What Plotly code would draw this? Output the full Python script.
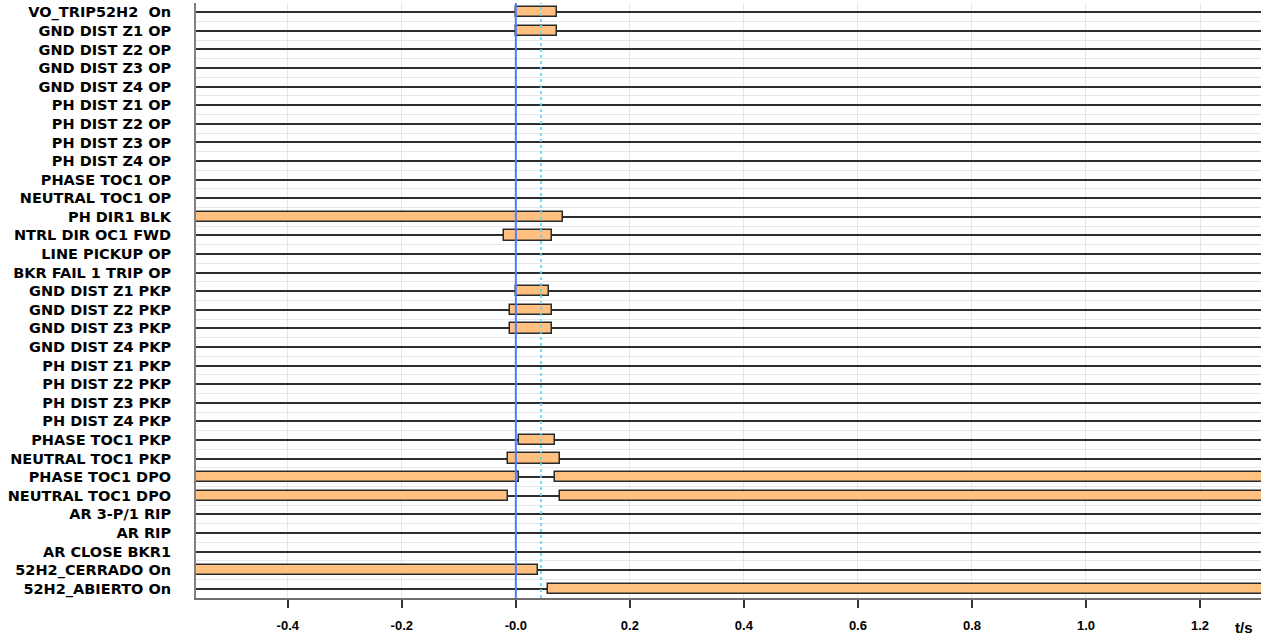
import plotly.graph_objects as go

rows = [
    "VO_TRIP52H2  On", "GND DIST Z1 OP", "GND DIST Z2 OP", "GND DIST Z3 OP",
    "GND DIST Z4 OP", "PH DIST Z1 OP", "PH DIST Z2 OP", "PH DIST Z3 OP",
    "PH DIST Z4 OP", "PHASE TOC1 OP", "NEUTRAL TOC1 OP", "PH DIR1 BLK",
    "NTRL DIR OC1 FWD", "LINE PICKUP OP", "BKR FAIL 1 TRIP OP",
    "GND DIST Z1 PKP", "GND DIST Z2 PKP", "GND DIST Z3 PKP", "GND DIST Z4 PKP",
    "PH DIST Z1 PKP", "PH DIST Z2 PKP", "PH DIST Z3 PKP", "PH DIST Z4 PKP",
    "PHASE TOC1 PKP", "NEUTRAL TOC1 PKP", "PHASE TOC1 DPO", "NEUTRAL TOC1 DPO",
    "AR 3-P/1 RIP", "AR RIP", "AR CLOSE BKR1", "52H2_CERRADO On", "52H2_ABIERTO On",
]

# Active intervals (seconds)
bar_signals = [
    "VO_TRIP52H2  On", "GND DIST Z1 OP", "PH DIR1 BLK", "NTRL DIR OC1 FWD",
    "GND DIST Z1 PKP", "GND DIST Z2 PKP", "GND DIST Z3 PKP",
    "PHASE TOC1 PKP", "NEUTRAL TOC1 PKP",
    "PHASE TOC1 DPO", "PHASE TOC1 DPO",
    "NEUTRAL TOC1 DPO", "NEUTRAL TOC1 DPO",
    "52H2_CERRADO On", "52H2_ABIERTO On",
]
bar_starts = [0.000, 0.000, -0.600, -0.021, 0.000, -0.010, -0.010,
              0.006, -0.014, -0.600, 0.068, -0.600, 0.078, -0.600, 0.057]
bar_ends = [0.072, 0.072, 0.083, 0.063, 0.059, 0.064, 0.064,
            0.068, 0.078, 0.006, 1.400, -0.014, 1.400, 0.039, 1.400]

x_ticks = [-0.4, -0.2, 0.0, 0.2, 0.4, 0.6, 0.8, 1.0, 1.2]
x_tick_text = ["-0.4", "-0.2", "-0.0", "0.2", "0.4", "0.6", "0.8", "1.0", "1.2"]
x_range = [-0.561, 1.307]

trigger_time = 0.0
cursor_time = 0.044

row_index = {name: i for i, name in enumerate(rows)}
n = len(rows)

fig = go.Figure()
fig.add_trace(go.Bar(
    orientation="h",
    y=[row_index[s] for s in bar_signals],
    base=bar_starts,
    x=[e - s for s, e in zip(bar_starts, bar_ends)],
    width=0.55,
    marker=dict(color="#FFC080", line=dict(color="#2a2a2a", width=1.5)),
    hoverinfo="skip",
    showlegend=False,
))

fig.add_vline(x=trigger_time, line=dict(color="#4d7dff", width=2), layer="above")
fig.add_vline(x=cursor_time, line=dict(color="#55d8ff", width=2, dash="dot"),
              opacity=0.85, layer="above")

fig.update_layout(
    width=1266, height=639,
    margin=dict(l=196, r=5, t=3, b=41, autoexpand=False),
    paper_bgcolor="white", plot_bgcolor="white",
    bargap=0,
    xaxis=dict(
        range=x_range, tickmode="array", tickvals=x_ticks, ticktext=x_tick_text,
        showgrid=True, gridcolor="#e6e6e6", gridwidth=1, zeroline=False,
        showline=True, linecolor="#6e6e6e", linewidth=2,
        ticks="outside", ticklen=8, tickwidth=1.5, tickcolor="#333",
        ticklabelstandoff=6, automargin=False,
        tickfont=dict(family="Liberation Sans", size=13, color="black", weight="bold"),
    ),
    yaxis=dict(
        range=[n - 0.5, -0.5], tickmode="array", tickvals=list(range(n)), ticktext=rows,
        showgrid=True, gridcolor="#2e2e2e", gridwidth=1.5, zeroline=False,
        showline=True, linecolor="#808080", linewidth=2,
        ticks="", ticklabelstandoff=20, automargin=False,
        tickfont=dict(family="DejaVu Sans", size=14.5, color="black", weight="bold"),
        minor=dict(tickmode="linear", tick0=0.5, dtick=1, showgrid=True,
                   gridcolor="#e8e8e8", gridwidth=1),
    ),
    annotations=[dict(text="t/s", xref="paper", yref="paper", x=0.984, y=-0.05,
                      xanchor="center", yanchor="middle", showarrow=False,
                      font=dict(family="Liberation Sans", size=15, color="black", weight="bold"))],
)

fig.write_html("out.html", config={"displayModeBar": False},
               post_script="document.body.style.margin='0';")
